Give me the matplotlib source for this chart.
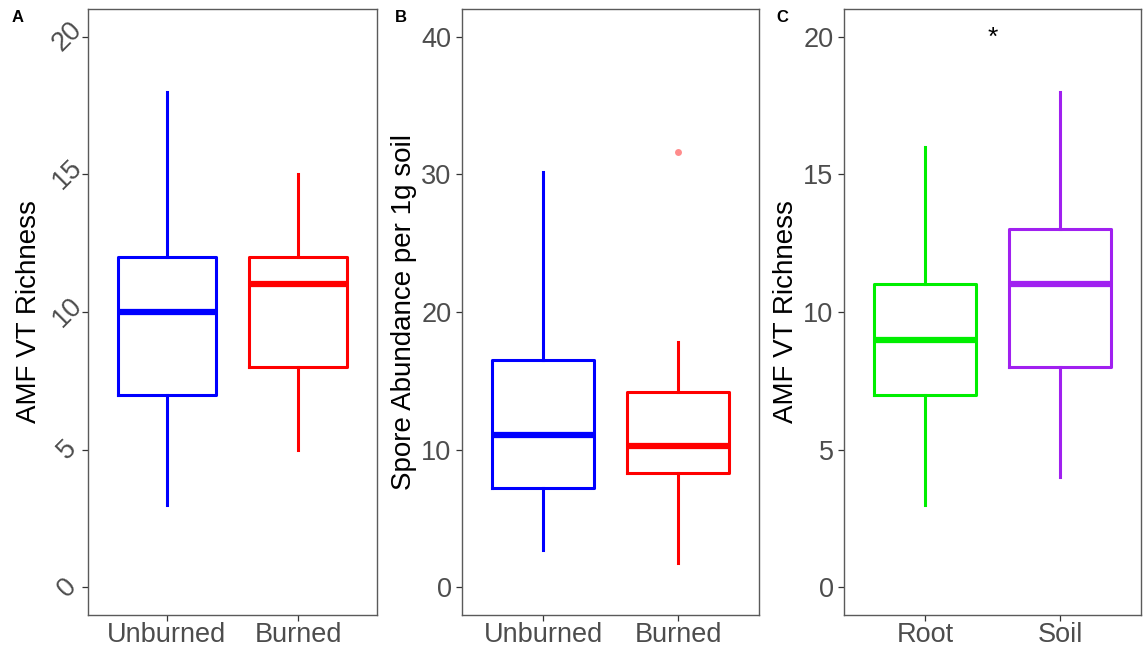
import matplotlib
matplotlib.use("Agg")
import matplotlib.pyplot as plt

plt.rcParams['font.family'] = ['Liberation Sans', 'DejaVu Sans']

# Panel A: AMF VT richness by fire treatment
fire_groups = ["Unburned", "Burned"]
fire_colors = ["#0000FF", "#FF0000"]
richness_fire_low = [3, 5]
richness_fire_q1 = [7, 8]
richness_fire_med = [10, 11]
richness_fire_q3 = [12, 12]
richness_fire_high = [18, 15]

# Panel B: spore abundance by fire treatment
spore_low = [2.7, 1.8]
spore_q1 = [7.2, 8.3]
spore_med = [11.1, 10.3]
spore_q3 = [16.5, 14.2]
spore_high = [30.2, 17.8]
spore_outliers = [[], [31.6]]

# Panel C: AMF VT richness by sample type
sample_groups = ["Root", "Soil"]
sample_colors = ["#00EE00", "#A020F0"]
richness_sample_low = [3, 4]
richness_sample_q1 = [7, 8]
richness_sample_med = [9, 11]
richness_sample_q3 = [11, 13]
richness_sample_high = [16, 18]

AXIS_GREY = "#4D4D4D"
TICK_SIZE = 19.5
TITLE_SIZE = 20


def draw_panel(ax, groups, colors, lo, q1, med, q3, hi, fliers=None):
    stats = []
    for i, g in enumerate(groups):
        stats.append(dict(label=g, whislo=lo[i], q1=q1[i], med=med[i],
                          q3=q3[i], whishi=hi[i],
                          fliers=(fliers[i] if fliers else [])))
    for i, s in enumerate(stats):
        c = colors[i]
        ax.bxp([s], positions=[i + 1], widths=0.75, showcaps=False,
               patch_artist=False,
               boxprops=dict(color=c, linewidth=2.2),
               whiskerprops=dict(color=c, linewidth=2.2),
               medianprops=dict(color=c, linewidth=4.5, solid_capstyle='butt'),
               flierprops=dict(marker='o', markersize=5, markerfacecolor=c,
                               markeredgecolor='none', alpha=0.45))
    ax.set_xlim(0.4, 2.6)
    ax.set_xticks([1, 2])
    ax.set_xticklabels(groups)
    for sp in ax.spines.values():
        sp.set_color("#5A5A5A")
        sp.set_linewidth(1.0)
    ax.tick_params(axis='both', colors="#333333", labelcolor=AXIS_GREY,
                   labelsize=TICK_SIZE, length=4, width=0.9, direction='out')
    ax.tick_params(axis='x', pad=1)


fig = plt.figure(figsize=(11.44, 6.48), dpi=100)
H = 648.0
W = 1144.0
bottom = 1 - 615 / H
height = (615 - 9) / H

axA = fig.add_axes([88 / W, bottom, (377 - 88) / W, height])
axB = fig.add_axes([462 / W, bottom, (759 - 462) / W, height])
axC = fig.add_axes([844 / W, bottom, (1141 - 844) / W, height])

draw_panel(axA, fire_groups, fire_colors, richness_fire_low, richness_fire_q1,
           richness_fire_med, richness_fire_q3, richness_fire_high)
axA.set_ylim(-1, 21)
axA.set_yticks([0, 5, 10, 15, 20])
for lbl in axA.get_yticklabels():
    lbl.set_rotation(45)
    lbl.set_ha('center')
    lbl.set_va('center')
axA.tick_params(axis='y', pad=11)
axA.set_ylabel("AMF VT Richness", fontsize=TITLE_SIZE, color="black",
               labelpad=4)

draw_panel(axB, fire_groups, fire_colors, spore_low, spore_q1, spore_med,
           spore_q3, spore_high, spore_outliers)
axB.set_ylim(-2, 42)
axB.set_yticks([0, 10, 20, 30, 40])
axB.set_ylabel("Spore Abundance per 1g soil", fontsize=TITLE_SIZE,
               color="black", labelpad=3)

draw_panel(axC, sample_groups, sample_colors, richness_sample_low,
           richness_sample_q1, richness_sample_med, richness_sample_q3,
           richness_sample_high)
axC.set_ylim(-1, 21)
axC.set_yticks([0, 5, 10, 15, 20])
axC.set_ylabel("AMF VT Richness", fontsize=TITLE_SIZE, color="black",
               labelpad=3)
axC.text(1.5, 19.95, "*", ha='center', va='center', fontsize=19,
         color="black")

for x, lab in [(18, "A"), (401, "B"), (782, "C")]:
    fig.text(x / W, 1 - 18 / H, lab, ha='center', va='center',
             fontsize=12, fontweight='bold', color='black')

fig.savefig("out.png", dpi=100, facecolor='white')
